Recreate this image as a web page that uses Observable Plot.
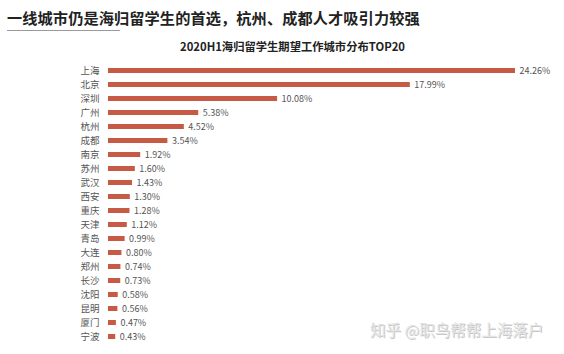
<!DOCTYPE html>
<html>
<head>
<meta charset="utf-8">
<script src="https://cdn.jsdelivr.net/npm/d3@7"></script>
<script src="https://cdn.jsdelivr.net/npm/@observablehq/plot@0.6"></script>
<style>
  html, body { margin: 0; padding: 0; background: #fff; }
  body { width: 564px; height: 354px; position: relative; overflow: hidden; font-family: "Noto Sans CJK SC", "Noto Sans", sans-serif; }
  #header { position: relative; height: 55px; }
  #title { position: absolute; left: 7px; top: 6px; font-size: 15.2px; font-weight: 700; color: #222; white-space: nowrap; letter-spacing: 0.1px; }
  #rule { position: absolute; left: 7px; top: 30px; width: 113px; height: 1px; background: #9a9a9a; }
  #subtitle { position: absolute; left: 0; width: 585px; top: 38px; text-align: center; font-size: 11.3px; font-weight: 700; color: #222; white-space: nowrap; }
  #mark { position: absolute; left: 370px; top: 318px; font-size: 15.5px; color: #e4e4e4; white-space: nowrap; text-shadow: 1px 1px 0 #c8c8c8; }
</style>
</head>
<body>
<div id="header">
  <div id="title">一线城市仍是海归留学生的首选，杭州、成都人才吸引力较强</div>
  <div id="rule"></div>
  <div id="subtitle">2020H1海归留学生期望工作城市分布TOP20</div>
</div>
<div id="chart"></div>
<div id="mark">知乎 @职鸟帮帮上海落户</div>
<script>
const cities = ["上海","北京","深圳","广州","杭州","成都","南京","苏州","武汉","西安","重庆","天津","青岛","大连","郑州","长沙","沈阳","昆明","厦门","宁波"];
const shares = [24.26,17.99,10.08,5.38,4.52,3.54,1.92,1.60,1.43,1.30,1.28,1.12,0.99,0.80,0.74,0.73,0.58,0.56,0.47,0.43];
const labels = ["24.26%","17.99%","10.08%","5.38%","4.52%","3.54%","1.92%","1.60%","1.43%","1.30%","1.28%","1.12%","0.99%","0.80%","0.74%","0.73%","0.58%","0.56%","0.47%","0.43%"];

const data = cities.map((c, i) => ({city: c, value: shares[i], label: labels[i]}));

const yTop = 8, yStep = 14.05;
const chart = Plot.plot({
  width: 564,
  height: 299,
  marginTop: 0, marginBottom: 0, marginLeft: 0, marginRight: 0,
  style: {fontFamily: "'Noto Sans CJK SC', sans-serif", background: "transparent"},
  x: {domain: [0, 24.26], range: [108, 515], axis: null},
  y: {domain: cities, range: [yTop, yTop + 20 * yStep], paddingInner: 0.64, paddingOuter: 0.32, axis: null},
  marks: [
    Plot.barX(data, {x: "value", y: "city", fill: "#c75a44"}),
    Plot.text(data, {x: 0, y: "city", text: "city", textAnchor: "end", dx: -9, fontSize: 9.5, fill: "#555"}),
    Plot.text(data, {x: "value", y: "city", text: "label", textAnchor: "start", dx: 4, fontSize: 9, fill: "#555"})
  ]
});
document.getElementById("chart").appendChild(chart);
</script>
</body>
</html>
